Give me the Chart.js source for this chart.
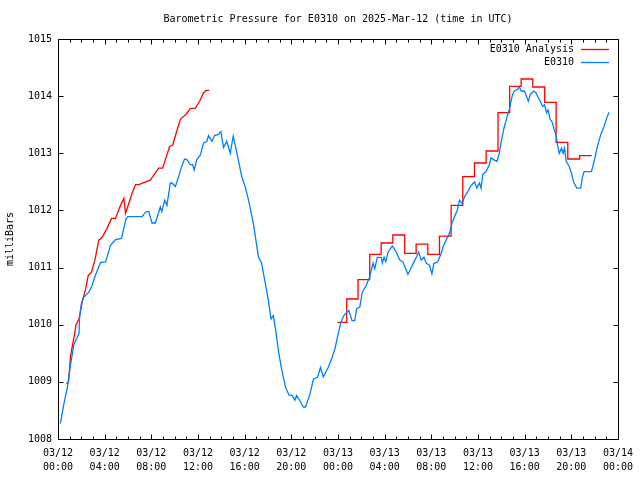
<!DOCTYPE html>
<html>
<head>
<meta charset="utf-8">
<title>Barometric Pressure for E0310</title>
<script src="https://cdn.jsdelivr.net/npm/chart.js@4/dist/chart.umd.min.js"></script>
<style>
  html, body { margin: 0; padding: 0; background: #fff; }
  #wrap { width: 640px; height: 480px; }
</style>
</head>
<body>
<div id="wrap"><canvas id="chart" width="640" height="480"></canvas></div>
<script>
(() => {
  const FONT = '"DejaVu Sans Mono", "Liberation Mono", monospace';
  const TITLE = 'Barometric Pressure for E0310 on 2025-Mar-12 (time in UTC)';

  // x = hours since 03/12 00:00 UTC
  const xTickDates = ['03/12', '03/12', '03/12', '03/12', '03/12', '03/12', '03/13', '03/13', '03/13', '03/13', '03/13', '03/13', '03/14'];
  const xTickTimes = ['00:00', '04:00', '08:00', '12:00', '16:00', '20:00', '00:00', '04:00', '08:00', '12:00', '16:00', '20:00', '00:00'];
  const yTicks = [1008, 1009, 1010, 1011, 1012, 1013, 1014, 1015];

  // E0310 observed
  const blueTimes = [
    0.2, 0.5, 0.8, 1.08, 1.37, 1.65, 1.8, 1.85, 2.0, 2.2, 2.65, 2.93, 3.2, 3.65, 4.08, 4.5, 4.93, 5.44, 5.84, 6.0,
    7.2, 7.55, 7.78, 8.06, 8.35, 8.77, 8.9, 9.15, 9.34, 9.63, 9.77, 10.06, 10.34, 10.6, 10.85, 11.05, 11.34, 11.54, 11.68, 11.9,
    12.2, 12.48, 12.76, 12.9, 13.2, 13.42, 13.76, 13.96, 14.19, 14.47, 14.76, 15.02, 15.4, 15.75, 16.04, 16.33, 16.75, 17.18, 17.46, 17.75,
    18.03, 18.26, 18.46, 18.66, 18.89, 19.17, 19.51, 19.8, 20.09, 20.31, 20.45, 20.74, 21.03, 21.22, 21.6, 21.9, 22.25, 22.5, 22.74, 23.16,
    23.45, 23.74, 24.02, 24.25, 24.5, 24.93, 25.21, 25.44, 25.6, 25.87, 26.09, 26.43, 26.72, 27.01, 27.15, 27.37, 27.72, 27.8, 27.95, 28.1,
    28.29, 28.66, 29.0, 29.3, 29.57, 29.86, 30.0, 30.23, 30.51, 30.71, 30.91, 31.14, 31.37, 31.56, 31.85, 32.05, 32.22, 32.56, 32.85, 33.0,
    33.27, 33.56, 33.76, 33.99, 34.22, 34.42, 34.64, 34.85, 35.13, 35.36, 35.7, 35.9, 36.13, 36.27, 36.41, 36.69, 36.98, 37.12, 37.4, 37.63,
    37.83, 37.97, 38.26, 38.4, 38.55, 38.69, 38.83, 38.97, 39.12, 39.4, 39.54, 39.7, 39.98, 40.32, 40.49, 40.77, 40.97, 41.18, 41.35, 41.54,
    41.7, 41.88, 42.0, 42.2, 42.39, 42.54, 42.68, 42.82, 42.97, 43.16, 43.3, 43.42, 43.56, 43.82, 44.02, 44.19, 44.47, 44.81, 44.96, 45.1,
    45.73, 45.96, 46.24, 46.53, 46.81, 47.04, 47.24,
  ];
  const bluePress = [
    1008.27, 1008.61, 1008.9, 1009.31, 1009.66, 1009.78, 1009.84, 1010.13, 1010.37, 1010.48, 1010.57, 1010.69, 1010.86, 1011.09, 1011.1, 1011.39, 1011.49, 1011.51, 1011.86, 1011.89,
    1011.89, 1011.98, 1011.98, 1011.78, 1011.78, 1012.06, 1011.98, 1012.18, 1012.09, 1012.48, 1012.48, 1012.42, 1012.59, 1012.77, 1012.9, 1012.89, 1012.8, 1012.8, 1012.71, 1012.89,
    1012.97, 1013.18, 1013.21, 1013.31, 1013.21, 1013.31, 1013.33, 1013.38, 1013.1, 1013.21, 1013.0, 1013.3, 1012.94, 1012.59, 1012.42, 1012.18, 1011.77, 1011.19, 1011.07, 1010.75,
    1010.43, 1010.1, 1010.16, 1009.9, 1009.55, 1009.22, 1008.9, 1008.77, 1008.76, 1008.68, 1008.76, 1008.67, 1008.56, 1008.56, 1008.79, 1009.05, 1009.08, 1009.25, 1009.09, 1009.25,
    1009.4, 1009.58, 1009.84, 1010.04, 1010.16, 1010.25, 1010.07, 1010.07, 1010.28, 1010.31, 1010.57, 1010.69, 1010.84, 1011.08, 1010.98, 1011.18, 1011.18, 1011.08, 1011.18, 1011.1,
    1011.27, 1011.38, 1011.27, 1011.13, 1011.1, 1010.95, 1010.88, 1010.98, 1011.1, 1011.18, 1011.27, 1011.13, 1011.18, 1011.08, 1011.04, 1010.89, 1011.07, 1011.1, 1011.25, 1011.36,
    1011.48, 1011.6, 1011.77, 1011.89, 1012.0, 1012.18, 1012.12, 1012.24, 1012.33, 1012.42, 1012.5, 1012.39, 1012.48, 1012.39, 1012.63, 1012.68, 1012.8, 1012.92, 1012.88, 1012.86,
    1013.0, 1013.18, 1013.47, 1013.56, 1013.68, 1013.76, 1013.91, 1014.03, 1014.09, 1014.12, 1014.17, 1014.09, 1014.09, 1013.91, 1014.03, 1014.09, 1014.06, 1013.97, 1013.91, 1013.82,
    1013.85, 1013.71, 1013.76, 1013.59, 1013.53, 1013.41, 1013.33, 1013.15, 1013.0, 1013.09, 1013.0, 1013.09, 1012.86, 1012.77, 1012.65, 1012.5, 1012.39, 1012.39, 1012.59, 1012.68,
    1012.68, 1012.86, 1013.12, 1013.33, 1013.47, 1013.62, 1013.72,
  ];

  // E0310 Analysis, first stretch (continuous)
  const redTimes = [
    0.71, 0.9, 1.08, 1.37, 1.56, 1.8, 2.08, 2.37, 2.59, 2.87, 3.16, 3.5, 3.79, 4.21, 4.59, 4.93, 5.3, 5.64, 5.79, 6.07,
    6.35, 6.64, 6.93, 7.5, 7.92, 8.21, 8.63, 8.97, 9.2, 9.57, 9.85, 10.14, 10.48, 10.62, 10.97, 11.34, 11.77, 12.14, 12.48, 12.71, 12.97,
  ];
  const redPress = [
    1008.97, 1008.99, 1009.46, 1009.78, 1010.01, 1010.1, 1010.4, 1010.63, 1010.86, 1010.92, 1011.13, 1011.48, 1011.53, 1011.69, 1011.86, 1011.86, 1012.06, 1012.21, 1011.95, 1012.12,
    1012.3, 1012.45, 1012.45, 1012.5, 1012.53, 1012.62, 1012.74, 1012.74, 1012.89, 1013.12, 1013.15, 1013.36, 1013.59, 1013.62, 1013.68, 1013.78, 1013.79, 1013.91, 1014.06, 1014.1, 1014.1,
  ];

  // E0310 Analysis, second stretch (hourly steps; last entry closes the final step)
  const redStepTimes = [
    23.96, 24.75, 25.72, 26.72, 27.7, 28.7, 29.72, 30.7, 31.7, 32.7, 33.7, 34.7, 35.7, 36.7, 37.72, 38.72, 39.7, 40.7, 41.72, 42.7,
    43.7, 44.72, 45.75,
  ];
  const redStepPress = [
    1010.04, 1010.45, 1010.79, 1011.23, 1011.43, 1011.57, 1011.25, 1011.41, 1011.23, 1011.55, 1012.09, 1012.59, 1012.83, 1013.04, 1013.71, 1014.17, 1014.3, 1014.16, 1013.89, 1013.19,
    1012.9, 1012.96, 1012.96,
  ];

  const RED = '#ff0000';
  const BLUE = '#0080ff';
  const LINE_W = 1.3;

  const toPoints = (xs, ys) => xs.map((t, i) => ({ x: t, y: ys[i] }));

  const gnuplotFrame = {
    id: 'gnuplotFrame',
    afterDraw(chart) {
      const { ctx, chartArea: a, scales: { x, y } } = chart;
      const L = Math.round(a.left) + 0.5;
      const R = Math.round(a.right) + 0.5;
      const T = Math.round(a.top) + 0.5;
      const B = Math.round(a.bottom) + 0.5;
      ctx.save();
      ctx.strokeStyle = '#000';
      ctx.lineWidth = 1;
      ctx.beginPath();
      ctx.rect(L, T, R - L, B - T);
      // inward ticks on all four sides, minor every hour
      for (let h = 0; h <= 48; h += 1) {
        const px = Math.round(x.getPixelForValue(h)) + 0.5;
        const len = h % 4 === 0 ? 5 : 3;
        ctx.moveTo(px, B); ctx.lineTo(px, B - len);
        ctx.moveTo(px, T); ctx.lineTo(px, T + len);
      }
      yTicks.forEach((v) => {
        const py = Math.round(y.getPixelForValue(v)) + 0.5;
        ctx.moveTo(L, py); ctx.lineTo(L + 5, py);
        ctx.moveTo(R, py); ctx.lineTo(R - 5, py);
      });
      ctx.stroke();

      ctx.fillStyle = '#000';
      ctx.font = `10px ${FONT}`;
      ctx.textBaseline = 'middle';
      ctx.textAlign = 'center';
      ctx.fillText(TITLE, (a.left + a.right) / 2, 19);

      // legend: text right-aligned, line sample to its right
      let rowY = 49.5;
      ctx.textAlign = 'right';
      chart.data.datasets.forEach((ds) => {
        if (ds.inLegend === false) return;
        ctx.fillStyle = '#000';
        ctx.fillText(ds.label, 574, rowY);
        ctx.strokeStyle = ds.borderColor;
        ctx.lineWidth = LINE_W;
        ctx.beginPath();
        ctx.moveTo(581, rowY);
        ctx.lineTo(609, rowY);
        ctx.stroke();
        rowY += 13;
      });
      ctx.restore();
    },
  };

  new Chart(document.getElementById('chart'), {
    type: 'line',
    data: {
      datasets: [
        {
          label: 'E0310 Analysis',
          data: toPoints(redTimes, redPress),
          borderColor: RED, borderWidth: LINE_W, pointRadius: 0, order: 2,
        },
        {
          label: 'E0310 Analysis',
          inLegend: false,
          data: toPoints(redStepTimes, redStepPress),
          borderColor: RED, borderWidth: LINE_W, pointRadius: 0, stepped: true, order: 2,
        },
        {
          label: 'E0310',
          data: toPoints(blueTimes, bluePress),
          borderColor: BLUE, borderWidth: LINE_W, pointRadius: 0, order: 1,
        },
      ],
    },
    options: {
      responsive: false,
      animation: false,
      devicePixelRatio: 1,
      layout: { padding: { top: 39, right: 19, left: 0, bottom: 0 } },
      plugins: { legend: { display: false }, title: { display: false }, tooltip: { enabled: false } },
      scales: {
        x: {
          type: 'linear', min: 0, max: 48,
          afterFit: (scale) => { scale.height = 41; },
          grid: { display: false, drawTicks: false },
          border: { display: false },
          ticks: {
            stepSize: 4, maxRotation: 0, autoSkip: false, padding: 7, color: '#000',
            font: { family: FONT, size: 10, lineHeight: 1.4 },
            callback: (v) => { const i = Math.round(v / 4); return [xTickDates[i], xTickTimes[i]]; },
          },
        },
        y: {
          min: 1008, max: 1015,
          afterFit: (scale) => { scale.width = 58; },
          grid: { display: false, drawTicks: false },
          border: { display: false },
          title: { display: true, text: 'milliBars', color: '#000', font: { family: FONT, size: 10 }, padding: 4 },
          ticks: {
            stepSize: 1, padding: 6, color: '#000',
            font: { family: FONT, size: 10 },
            callback: (v) => String(v),
          },
        },
      },
    },
    plugins: [gnuplotFrame],
  });
})();
</script>
</body>
</html>
